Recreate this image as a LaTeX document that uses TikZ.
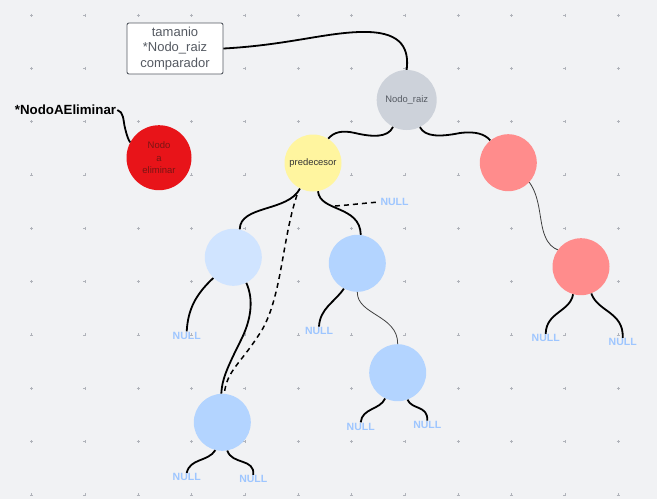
\documentclass[tikz,border=0pt]{standalone}
\usepackage{fontspec}
\setmainfont{Liberation Sans}
\definecolor{bgc}{HTML}{F1F2F4}
\definecolor{gridc}{HTML}{B0B3BA}
\definecolor{raizc}{HTML}{CDD2DA}
\definecolor{predc}{HTML}{FFF59F}
\definecolor{redc}{HTML}{E81419}
\definecolor{pinkc}{HTML}{FF8C8C}
\definecolor{lbc}{HTML}{D0E4FF}
\definecolor{bc}{HTML}{B3D4FF}
\definecolor{nullc}{HTML}{9EC6FF}
\definecolor{txtg}{HTML}{555A62}
\definecolor{txtr}{HTML}{7A1414}
\begin{document}
\begin{tikzpicture}[x=1pt,y=-1pt,
  circ/.style={circle,minimum size=57pt,inner sep=0pt,font=\fontsize{9.4}{11}\selectfont,text=txtg},
  nulltxt/.style={inner sep=0.5pt,text=nullc,font=\bfseries\fontsize{10.5}{11}\selectfont},
  thick line/.style={line width=1.8pt,black},
  thin line/.style={line width=0.8pt,black!75},
  dash line/.style={line width=1.5pt,black,dash pattern=on 5pt off 4pt}]
\fill[bgc] (0,0) rectangle (657,499);
\useasboundingbox (0,0) rectangle (657,499);
% grid
\foreach \i in {0,...,11}{\foreach \j in {0,...,9}{
  \draw[gridc,line width=0.4pt] ({31.5+53.33*\i-1.5},{15+53.33*\j}) -- ++(3,0)
    ({31.5+53.33*\i},{15+53.33*\j-1.5}) -- ++(0,3);}}
% nodes
\node[draw=txtg,line width=0.9pt,fill=white,rounded corners=2pt,minimum width=96pt,minimum height=51pt,inner sep=0pt,align=center,text=txtg,font=\fontsize{13}{15.5}\selectfont] (box) at (175,48.5) {tamanio\\*Nodo\_raiz\\comparador};
\node[circ,fill=raizc,minimum size=60pt] (raiz) at (406.7,100) {Nodo\_raiz};
\node[circ,fill=predc,text=black!80] (pred) at (313,163) {predecesor};
\node[circ,fill=pinkc] (redR) at (508.3,162.7) {};
\node[circ,fill=redc,minimum size=65pt,text=txtr,align=center,font=\fontsize{9.5}{12.5}\selectfont] (nae) at (159,157.7) {Nodo\\a\\eliminar};
\node[font=\bfseries\fontsize{13.3}{15}\selectfont,inner sep=1pt] (lab) at (65.5,110) {*NodoAEliminar};
\node[circ,fill=lbc] (lbL) at (233.3,257.3) {};
\node[circ,fill=bc] (bm) at (357.3,263.3) {};
\node[circ,fill=bc] (bl) at (222.3,422.3) {};
\node[circ,fill=bc] (lm) at (397.7,372.7) {};
\node[circ,fill=pinkc] (redL) at (581,266.7) {};
% NULL labels
\node[nulltxt] (n1) at (394.5,202) {NULL};
\node[nulltxt] (n2) at (186.7,335.7) {NULL};
\node[nulltxt] (n3) at (319,331) {NULL};
\node[nulltxt] (n4) at (186.7,477.3) {NULL};
\node[nulltxt] (n5) at (253.3,479.3) {NULL};
\node[nulltxt] (n6) at (360.7,426.7) {NULL};
\node[nulltxt] (n7) at (427.3,425) {NULL};
\node[nulltxt] (n8) at (545.7,338.3) {NULL};
\node[nulltxt] (n9) at (622.7,342.3) {NULL};
\coordinate (dA) at (335,206);
\coordinate (dB) at (297,195);
% connectors
\draw[thick line] (box.east) .. controls (290,45) and (330,31) .. (368,32) .. controls (403,33) and (409,50) .. (raiz.north);
\draw[thick line] (lab.east) .. controls (124,112) and (123,120) .. (125,128) .. controls (127,136) and (128,139) .. (nae.152);
\draw[thick line] (raiz.-117) .. controls (388,138) and (372,137) .. (355,133) .. controls (342,130) and (334,132) .. (pred.58);
\draw[thick line] (raiz.-64) .. controls (425,137) and (440,137) .. (460,133) .. controls (475,131) and (485,134) .. (redR.129);
\draw[thin line] (redR.-43) .. controls (541,198) and (539,222) .. (545,236) .. controls (548,244) and (553,248) .. (redL.144);
\draw[thick line] (redL.-106) .. controls (570,312) and (546,312) .. (n8.north);
\draw[thick line] (redL.-69) .. controls (598,312) and (624,312) .. (n9.north);
\draw[thick line] (pred.-117) .. controls (288,212) and (240,205) .. (lbL.77);
\draw[thick line] (pred.-80) .. controls (320,212) and (360,205) .. (bm.83);
\draw[dash line] (dA) .. controls (350,205) and (365,203) .. (n1.west);
\draw[dash line] (dB) .. controls (282,240) and (282,295) .. (262,330) .. controls (240,365) and (227,370) .. (bl.86);
\draw[thick line] (lbL.-63) .. controls (254,300) and (251,320) .. (241,340) .. controls (226,370) and (222,380) .. (bl.92);
\draw[thick line] (lbL.-134) .. controls (195,295) and (188,310) .. (n2.north);
\draw[thick line] (bm.-118) .. controls (335,302) and (320,308) .. (n3.north);
\draw[thin line] (bm.-90) .. controls (357,315) and (398,315) .. (lm.90);
\draw[thick line] (lm.-116) .. controls (380,410) and (362,408) .. (n6.north);
\draw[thick line] (lm.-70) .. controls (412,410) and (428,405) .. (n7.north);
\draw[thick line] (bl.-104) .. controls (208,462) and (190,458) .. (n4.north);
\draw[thick line] (bl.-80) .. controls (232,465) and (255,458) .. (n5.north);
\end{tikzpicture}
\end{document}
